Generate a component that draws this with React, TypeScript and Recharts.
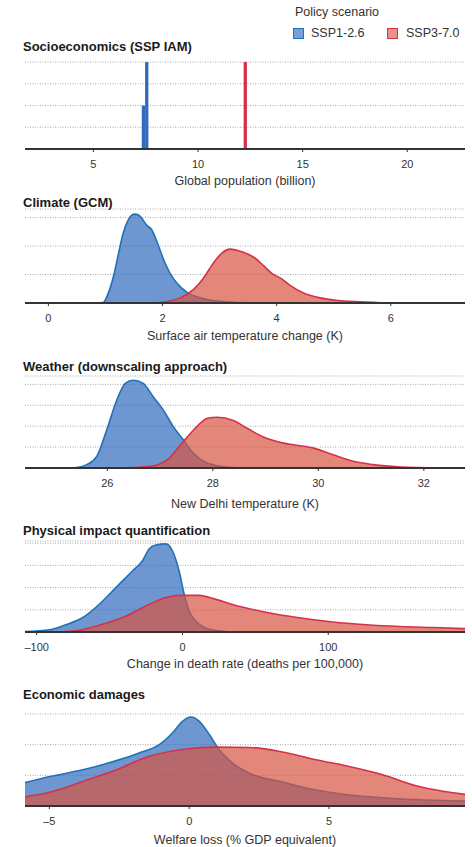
import React from 'react'
import { ComposedChart, Area, Bar, XAxis, YAxis, CartesianGrid } from 'recharts'

const BLUE_LINE = '#1f72b6'
const BLUE_FILL = '#316abc'
const RED_LINE = '#d6314a'
const RED_FILL = '#d65441'

// Socioeconomics: global population (billion), histogram bars
const popX = [7.39, 7.55, 12.26]
const popBlue = [0.5, 1, 0]
const popRed = [0, 0, 1]
const popTicks = [5, 10, 15, 20]

// Climate: surface air temperature change (K)
const climBlueX = [0.8, 0.96, 1.05, 1.14, 1.23, 1.31, 1.4, 1.46, 1.52, 1.61, 1.72, 1.81, 1.9, 2.02, 2.13, 2.25, 2.43, 2.66, 2.95, 3.36, 3.6]
const climBlueY = [0, 0.02, 0.35, 0.93, 1.75, 2.45, 2.92, 3.08, 3.12, 3.04, 2.74, 2.57, 2.16, 1.52, 1.05, 0.7, 0.37, 0.18, 0.07, 0.02, 0]
const climRedX = [1.8, 1.96, 2.31, 2.54, 2.72, 2.89, 3.04, 3.18, 3.3, 3.48, 3.62, 3.77, 3.92, 4.06, 4.24, 4.47, 4.76, 5.11, 5.75, 5.9]
const climRedY = [0, 0.02, 0.18, 0.47, 0.88, 1.4, 1.75, 1.89, 1.85, 1.73, 1.58, 1.31, 1.03, 0.88, 0.61, 0.35, 0.18, 0.08, 0.02, 0]
const climTicks = [0, 2, 4, 6]

// Weather: New Delhi temperature (K)
const wxBlueX = [25.3, 25.42, 25.61, 25.8, 25.99, 26.18, 26.34, 26.49, 26.68, 26.87, 27.06, 27.25, 27.44, 27.63, 27.82, 28.07, 28.39, 28.7]
const wxBlueY = [0, 0.02, 0.16, 0.56, 1.83, 3.25, 4.05, 4.2, 4.05, 3.41, 2.78, 1.98, 1.35, 0.71, 0.32, 0.11, 0.02, 0]
const wxRedX = [26.2, 26.38, 26.82, 27.14, 27.39, 27.64, 27.9, 28.08, 28.39, 28.65, 28.96, 29.34, 29.53, 29.91, 30.28, 30.66, 31.04, 31.55, 32.3]
const wxRedY = [0, 0.01, 0.08, 0.4, 1.11, 1.83, 2.38, 2.43, 2.27, 1.9, 1.48, 1.19, 1.11, 0.95, 0.63, 0.32, 0.16, 0.05, 0]
const wxTicks = [26, 28, 30, 32]

// Physical impact: change in death rate (deaths per 100,000)
const impBlueX = [-108, -91, -80, -68.6, -57.2, -45.7, -34.3, -27.4, -22.9, -18.3, -11.4, -6.9, -2.3, 1.2, 4.6, 9.2, 16, 25, 35]
const impBlueY = [0.02, 0.1, 0.33, 0.64, 1.24, 2.0, 2.75, 3.21, 3.74, 3.92, 3.97, 3.66, 2.75, 1.7, 0.94, 0.48, 0.18, 0.05, 0]
const impRedX = [-90, -80, -68.6, -57.2, -38.9, -22.9, -11.4, 0, 11.4, 22.9, 34.3, 57.2, 80, 103, 126, 149, 172, 193.8]
const impRedY = [0, 0.02, 0.1, 0.3, 0.71, 1.24, 1.55, 1.65, 1.65, 1.47, 1.24, 0.89, 0.64, 0.45, 0.33, 0.25, 0.2, 0.15]
const impTicks = [-100, 0, 100]

// Economic damages: welfare loss (% GDP equivalent)
const ecoBlueX = [-5.87, -4.98, -3.8, -2.6, -1.79, -1.07, -0.6, -0.24, 0.06, 0.36, 0.72, 1.07, 1.55, 2.15, 3.34, 4.53, 5.72, 6.92, 8.11, 9.86]
const ecoBlueY = [0.76, 0.96, 1.18, 1.48, 1.73, 2.0, 2.38, 2.76, 2.9, 2.76, 2.33, 1.84, 1.4, 1.07, 0.78, 0.52, 0.36, 0.27, 0.21, 0.16]
const ecoRedX = [-5.87, -4.98, -3.8, -2.6, -1.43, -0.24, 0.95, 2.15, 3.34, 4.53, 5.72, 6.92, 8.11, 9.86]
const ecoRedY = [0.3, 0.45, 0.8, 1.18, 1.62, 1.84, 1.92, 1.91, 1.76, 1.51, 1.29, 1.02, 0.66, 0.38]
const ecoTicks = [-5, 0, 5]

type Row = { x: number; blue?: number; red?: number }

function merge(bx: number[], by: number[], rx: number[], ry: number[]): Row[] {
  const rows = new Map<number, Row>()
  bx.forEach((x, i) => {
    const r = rows.get(x) || { x }
    r.blue = by[i]
    rows.set(x, r)
  })
  rx.forEach((x, i) => {
    const r = rows.get(x) || { x }
    r.red = ry[i]
    rows.set(x, r)
  })
  return [...rows.values()].sort((a, b) => a.x - b.x)
}

const fmt = (v: number) => (v < 0 ? '\u2013' + Math.abs(v) : String(v))

interface PanelProps {
  top: number
  plotTop: number
  baseline: number
  labelGap: number
  data: Row[]
  xDomain: [number, number]
  xTicks: number[]
  yMax: number
  yTicks: number[]
  xLabel: string
  bars?: boolean
}

const Panel = ({ top, plotTop, baseline, labelGap, data, xDomain, xTicks, yMax, yTicks, xLabel, bars }: PanelProps) => {
  const axisH = 40
  return (
    <div style={{ position: 'absolute', left: 0, top }}>
      <ComposedChart
        width={472}
        height={baseline + axisH + 4 - top}
        data={data}
        margin={{ top: plotTop - top, right: 7, bottom: 4, left: 25 }}
      >
        <CartesianGrid vertical={false} stroke="#a8a8a8" strokeDasharray="1 1.5" />
        <YAxis hide domain={[0, yMax]} ticks={yTicks} interval={0} allowDataOverflow />
        {bars ? (
          <>
            <Bar dataKey="blue" stackId="p" fill={BLUE_FILL} barSize={3.3} isAnimationActive={false} />
            <Bar dataKey="red" stackId="p" fill={RED_LINE} barSize={3.3} isAnimationActive={false} />
          </>
        ) : (
          <>
            <Area type="monotone" dataKey="blue" connectNulls stroke={BLUE_LINE} strokeWidth={1.6}
              fill={BLUE_FILL} fillOpacity={0.7} dot={false} activeDot={false} isAnimationActive={false} />
            <Area type="monotone" dataKey="red" connectNulls stroke={RED_LINE} strokeWidth={1.6}
              fill={RED_FILL} fillOpacity={0.7} dot={false} activeDot={false} isAnimationActive={false} />
          </>
        )}
        <XAxis
          dataKey="x"
          type="number"
          domain={xDomain}
          ticks={xTicks}
          interval={0}
          allowDataOverflow
          height={axisH}
          tickSize={3}
          tickMargin={8}
          tickFormatter={fmt}
          tick={{ fontSize: 11, fill: '#333' }}
          tickLine={{ stroke: '#333' }}
          axisLine={{ stroke: '#333', strokeWidth: 2 }}
          label={{ value: xLabel, position: 'insideBottom', offset: axisH - labelGap - 4.5, fontSize: 12.5, fill: '#333' }}
        />
      </ComposedChart>
    </div>
  )
}

const titleStyle = (center: number): React.CSSProperties => ({
  position: 'absolute',
  left: 23,
  top: center - 7.5,
  fontSize: 13,
  lineHeight: '15px',
  fontWeight: 'bold',
  color: '#1a1a1a',
  whiteSpace: 'nowrap',
})

const textStyle = (left: number, center: number): React.CSSProperties => ({
  position: 'absolute',
  left,
  top: center - 7.5,
  fontSize: 12.5,
  lineHeight: '15px',
  color: '#333',
  whiteSpace: 'nowrap',
})

const swatch = (left: number, fill: string, border: string): React.CSSProperties => ({
  position: 'absolute',
  left,
  top: 28,
  width: 9,
  height: 9,
  background: fill,
  border: `1.5px solid ${border}`,
})

export default function App() {
  return (
    <div style={{ position: 'absolute', left: 0, top: 0, width: 472, height: 847, background: '#fff', fontFamily: '"Liberation Sans", Arial, sans-serif', overflow: 'hidden' }}>
      <Panel top={55} plotTop={62} baseline={149} labelGap={31} data={merge(popX, popBlue, popX, popRed)}
        xDomain={[1.73, 22.76]} xTicks={popTicks} yMax={1} yTicks={[0.25, 0.5, 0.75, 1]} xLabel="Global population (billion)" bars />
      <Panel top={205} plotTop={209} baseline={303} labelGap={32} data={merge(climBlueX, climBlueY, climRedX, climRedY)}
        xDomain={[-0.41, 7.3]} xTicks={climTicks} yMax={3.3} yTicks={[1, 2, 3]} xLabel="Surface air temperature change (K)" />
      <Panel top={370} plotTop={376} baseline={468} labelGap={35} data={merge(wxBlueX, wxBlueY, wxRedX, wxRedY)}
        xDomain={[24.44, 32.78]} xTicks={wxTicks} yMax={4.4} yTicks={[1, 2, 3, 4]} xLabel="New Delhi temperature (K)" />
      <Panel top={535} plotTop={541} baseline={632} labelGap={31} data={merge(impBlueX, impBlueY, impRedX, impRedY)}
        xDomain={[-108, 193.8]} xTicks={impTicks} yMax={4.1} yTicks={[1, 2, 3, 4]} xLabel="Change in death rate (deaths per 100,000)" />
      <Panel top={705} plotTop={714} baseline={806} labelGap={33} data={merge(ecoBlueX, ecoBlueY, ecoRedX, ecoRedY)}
        xDomain={[-5.87, 9.86]} xTicks={ecoTicks} yMax={3} yTicks={[1, 2, 3]} xLabel="Welfare loss (% GDP equivalent)" />

      <div style={titleStyle(46.7)}>Socioeconomics (SSP IAM)</div>
      <div style={titleStyle(202.7)}>Climate (GCM)</div>
      <div style={titleStyle(366.7)}>Weather (downscaling approach)</div>
      <div style={titleStyle(530)}>Physical impact quantification</div>
      <div style={titleStyle(694)}>Economic damages</div>

      <div style={textStyle(295, 12.5)}>Policy scenario</div>
      <div style={swatch(293, '#7a9fd4', BLUE_LINE)} />
      <div style={textStyle(311, 33)}>SSP1-2.6</div>
      <div style={swatch(387, '#e8938a', RED_LINE)} />
      <div style={textStyle(406, 33)}>SSP3-7.0</div>
    </div>
  )
}
